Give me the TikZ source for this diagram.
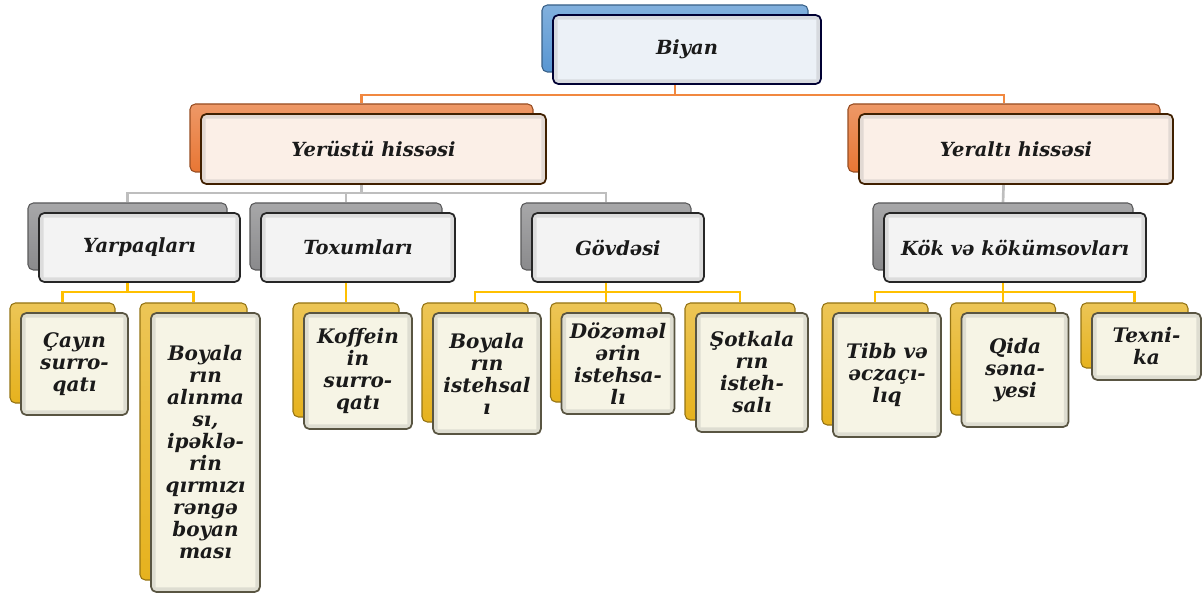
\documentclass[tikz,border=0pt]{standalone}
\usepackage{fontspec}
\setmainfont{DejaVu Serif}
\usetikzlibrary{backgrounds, calc}

\definecolor{bluebk}{RGB}{88,150,210}
\definecolor{orangebk}{RGB}{232,118,52}
\definecolor{graybk}{RGB}{138,138,140}
\definecolor{goldbk}{RGB}{230,178,30}
\definecolor{bluefr}{RGB}{236,241,247}
\definecolor{orangefr}{RGB}{251,239,231}
\definecolor{grayfr}{RGB}{243,243,243}
\definecolor{goldfr}{RGB}{246,244,229}
\definecolor{orangeln}{RGB}{241,136,64}
\definecolor{grayln}{RGB}{190,190,190}
\definecolor{goldln}{RGB}{255,192,0}
\definecolor{inkcol}{RGB}{26,26,26}

\begin{document}
\begin{tikzpicture}[
  x=0.75pt, y=-0.75pt,
  font=\bfseries\itshape\fontsize{14.6}{17}\selectfont,
  text=inkcol,
  % box sizes in pixels
  dim/.style 2 args={minimum width=#1*0.75pt, minimum height=#2*0.75pt},
  % back and front cards
  backbox/.style={draw=#1!65!black, top color=#1!75!white, bottom color=#1, rounded corners=4pt, line width=0.8pt, inner sep=0pt},
  frontbox/.style 2 args={draw=#1, fill=#2, rounded corners=4pt, line width=1.3pt, inner sep=0pt, align=center,
    path picture={\draw[black!40, opacity=0.25, line width=7pt, rounded corners=3pt]
      (path picture bounding box.north west) rectangle (path picture bounding box.south east);}},
  leaf/.style={frontbox={black!75!yellow}{goldfr}, font=\bfseries\itshape\fontsize{15}{16.5}\selectfont},
  % links
  link/.style={draw=#1, line width=2pt}
]
  \useasboundingbox (0,0) rectangle (1203,595);

  % ==========================================
  % ROOT
  % ==========================================
  \node[backbox=bluebk, dim={266}{67}] (biyanB) at (675,38.5) {};
  \node[frontbox={black!80!blue}{bluefr}, dim={268}{69}] (biyan) at ([shift={(12,11)}]biyanB.center) {Biyan};

  % ==========================================
  % FIRST LEVEL
  % ==========================================
  \node[backbox=orangebk, dim={343}{68}] (yerustuB) at (361.5,138) {};
  \node[frontbox={black!75!orange}{orangefr}, dim={345}{70}] (yerustu) at ([shift={(12,11)}]yerustuB.center) {Yerüstü hissəsi};

  \node[backbox=orangebk, dim={312}{68}] (yeraltiB) at (1004,138) {};
  \node[frontbox={black!75!orange}{orangefr}, dim={314}{70}] (yeralti) at ([shift={(12,11)}]yeraltiB.center) {Yeraltı hissəsi};

  % ==========================================
  % SECOND LEVEL
  % ==========================================
  \node[backbox=graybk, dim={199}{67}] (yarpaqB) at (127.5,236.5) {};
  \node[frontbox={black!85}{grayfr}, dim={201}{69}] (yarpaq) at ([shift={(12,11)}]yarpaqB.center) {Yarpaqları};

  \node[backbox=graybk, dim={192}{67}] (toxumB) at (346,236.5) {};
  \node[frontbox={black!85}{grayfr}, dim={194}{69}] (toxum) at ([shift={(12,11)}]toxumB.center) {Toxumları};

  \node[backbox=graybk, dim={170}{67}] (govdeB) at (606,236.5) {};
  \node[frontbox={black!85}{grayfr}, dim={172}{69}] (govde) at ([shift={(12,11)}]govdeB.center) {Gövdəsi};

  \node[backbox=graybk, dim={260}{67}] (kokB) at (1003,236.5) {};
  \node[frontbox={black!85}{grayfr}, dim={262}{69}] (kok) at ([shift={(12,11)}]kokB.center) {Kök və kökümsovları};

  % ==========================================
  % LEAVES
  % ==========================================
  \node[backbox=goldbk, dim={105}{100}] (cayB) at (62.5,353) {};
  \node[leaf, dim={107}{102}] (cay) at ([shift={(12,11)}]cayB.center) {Çayın\\surro-\\qatı};

  \node[backbox=goldbk, dim={107}{277}] (boyaB) at (193.5,441.5) {};
  \node[leaf, dim={109}{279}] (boya) at ([shift={(12,11)}]boyaB.center)
    {Boyala\\rın\\alınma\\sı,\\ipəklə-\\rin\\qırmızı\\rəngə\\boyan\\ması};

  \node[backbox=goldbk, dim={106}{114}] (koffeinB) at (346,360) {};
  \node[leaf, dim={108}{116}] (koffein) at ([shift={(12,11)}]koffeinB.center) {Koffein\\in\\surro-\\qatı};

  \node[backbox=goldbk, dim={106}{119}] (istehsalB) at (475,362.5) {};
  \node[leaf, dim={108}{121}] (istehsal) at ([shift={(12,11)}]istehsalB.center) {Boyala\\rın\\istehsal\\ı};

  \node[backbox=goldbk, dim={111}{99}] (dozemB) at (606,352.5) {};
  \node[leaf, dim={113}{101}] (dozem) at ([shift={(12,11)}]dozemB.center) {Dözəməl\\ərin\\istehsa-\\lı};

  \node[backbox=goldbk, dim={110}{117}] (sotkaB) at (740,361.5) {};
  \node[leaf, dim={112}{119}] (sotka) at ([shift={(12,11)}]sotkaB.center) {Şotkala\\rın\\isteh-\\salı};

  \node[backbox=goldbk, dim={106}{122}] (tibbB) at (875,364) {};
  \node[leaf, dim={108}{124}] (tibb) at ([shift={(12,11)}]tibbB.center) {Tibb və\\əczaçı-\\lıq};

  \node[backbox=goldbk, dim={105}{112}] (qidaB) at (1003,359) {};
  \node[leaf, dim={107}{114}] (qida) at ([shift={(12,11)}]qidaB.center) {Qida\\səna-\\yesi};

  \node[backbox=goldbk, dim={107}{65}] (texnikaB) at (1134.5,335.5) {};
  \node[leaf, dim={109}{67}] (texnika) at ([shift={(12,11)}]texnikaB.center) {Texni-\\ka};

  % ==========================================
  % LINKS
  % ==========================================
  \coordinate (bus1) at (0,95);
  \coordinate (bus2) at (0,193);
  \coordinate (bus3) at (0,292);

  \begin{scope}[on background layer]
    \draw[link=orangeln] (biyanB.south) -- (biyanB.south |- bus1) -| (yerustuB.north);
    \draw[link=orangeln] (biyanB.south |- bus1) -| (yeraltiB.north);

    \draw[link=grayln] (yerustuB.south) -- (yerustuB.south |- bus2) -| (yarpaqB.north);
    \draw[link=grayln] (yerustuB.south |- bus2) -| (toxumB.north);
    \draw[link=grayln] (yerustuB.south |- bus2) -| (govdeB.north);
    \draw[link=grayln] (yeraltiB.south) -- (kokB.north);

    \draw[link=goldln] (yarpaqB.south) -- (yarpaqB.south |- bus3) -| (cayB.north);
    \draw[link=goldln] (yarpaqB.south |- bus3) -| (boyaB.north);
    \draw[link=goldln] (toxumB.south) -- (koffeinB.north);
    \draw[link=goldln] (govdeB.south) -- (dozemB.north);
    \draw[link=goldln] (govdeB.south |- bus3) -| (istehsalB.north);
    \draw[link=goldln] (govdeB.south |- bus3) -| (sotkaB.north);
    \draw[link=goldln] (kokB.south) -- (qidaB.north);
    \draw[link=goldln] (kokB.south |- bus3) -| (tibbB.north);
    \draw[link=goldln] (kokB.south |- bus3) -| (texnikaB.north);
  \end{scope}
\end{tikzpicture}
\end{document}
